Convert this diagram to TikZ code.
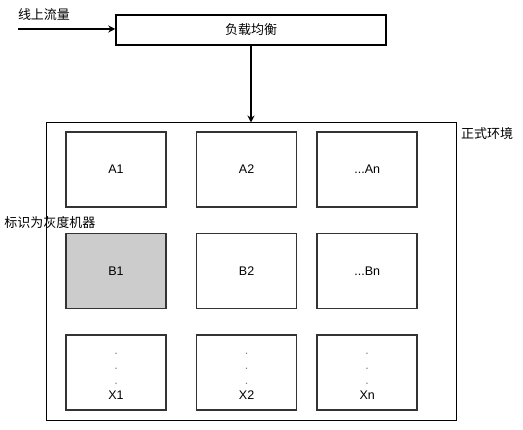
\documentclass[tikz,border=0pt]{standalone}
\usepackage{fontspec}
\setmainfont{Liberation Sans}
\newfontfamily\cjk{Noto Sans CJK SC}
\usepackage{tikz}
\usetikzlibrary{arrows.meta,positioning}
\definecolor{cellgray}{HTML}{CCCCCC}
\definecolor{edgedark}{HTML}{333333}
\newcommand{\vdotsgray}{\textcolor{gray}{.}}

\begin{document}
\begin{tikzpicture}[x=1pt,y=1pt,>={Stealth[length=7pt,width=7pt]},font=\fontsize{12.5}{15}\selectfont]
\tikzstyle{cell}=[draw=edgedark,line width=1.6pt,minimum width=100pt,minimum height=75pt,inner sep=0pt,align=center]
\tikzstyle{lbl}=[font=\cjk\fontsize{13}{15}\selectfont,inner sep=0pt]
\useasboundingbox (0,0) rectangle (523,-430);
\node[draw,line width=1.5pt,minimum width=270pt,minimum height=30pt,lbl] (lb) at (251,-30) {负载均衡};
\node[draw,line width=1pt,minimum width=410pt,minimum height=298pt] (env) at (251,-272) {};
\node[lbl] (traffic) at (44,-15) {线上流量};
\coordinate (in) at (18,-29);
\draw[->,line width=1.5pt] (in) -- (in -| lb.west);
\draw[->,line width=1.5pt] (lb) -- (env);
\node[lbl,anchor=north west] (envname) at (461,-127) {正式环境};
% 机器
\node[cell] (a1) at (116,-169.5) {A1};
\node[cell,right=29pt of a1] (a2) {A2};
\node[cell,right=19pt of a2] (an) {...An};
\node[cell,fill=cellgray,below=25pt of a1] (b1) {B1};
\node[cell,right=29pt of b1] (b2) {B2};
\node[cell,right=19pt of b2] (bn) {...Bn};
\node[cell,below=25pt of b1] (x1) {\rule{0pt}{9pt}\vdotsgray\\\vdotsgray\\\vdotsgray\\X1};
\node[cell,right=29pt of x1] (x2) {\rule{0pt}{9pt}\vdotsgray\\\vdotsgray\\\vdotsgray\\X2};
\node[cell,right=19pt of x2] (xn) {\rule{0pt}{9pt}\vdotsgray\\\vdotsgray\\\vdotsgray\\Xn};
\node[lbl] (graylbl) at (50,-223) {标识为灰度机器};
\end{tikzpicture}
\end{document}
